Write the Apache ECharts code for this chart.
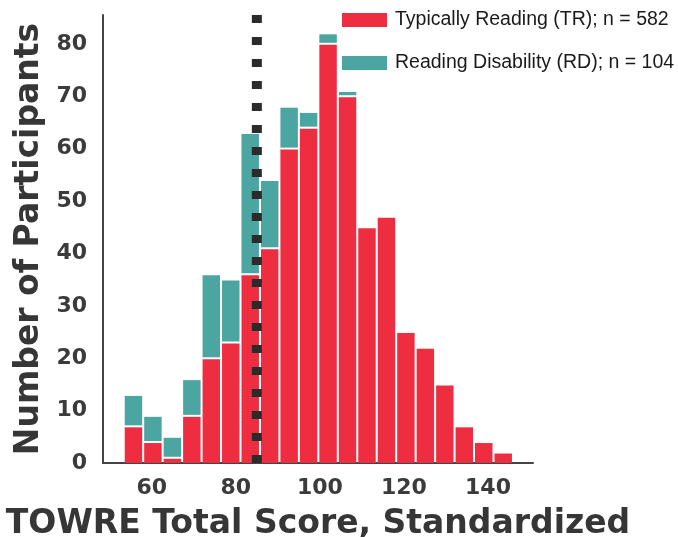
<!DOCTYPE html>
<html>
<head>
<meta charset="utf-8">
<script src="https://cdn.jsdelivr.net/npm/echarts@6/dist/echarts.min.js"></script>
<style>
html,body{margin:0;padding:0;background:#fff;}
#chart{width:678px;height:537px;}
</style>
</head>
<body>
<div id="chart"></div>
<script>
// Histogram bin edges (TOWRE standardized score)
const binEdges = [53.33, 57.96, 62.59, 67.22, 71.85, 76.48, 81.11, 85.74, 90.37, 95.00, 99.63,
                  104.26, 108.89, 113.52, 118.15, 122.78, 127.41, 132.04, 136.67, 141.30, 145.93];
// Counts per bin
const trCounts = [7, 4, 1, 9, 20, 23, 36, 41, 60, 64, 80, 70, 45, 47, 25, 22, 15, 7, 4, 2];
const rdCounts = [6, 5, 4, 7, 16, 12, 27, 13, 8, 3, 2, 1, 0, 0, 0, 0, 0, 0, 0, 0];
const cutoffScore = 85;
const seriesNames = ['Typically Reading (TR); n = 582', 'Reading Disability (RD); n = 104'];
const xTickValues = [60, 80, 100, 120, 140];
const yTickValues = [0, 10, 20, 30, 40, 50, 60, 70, 80];

const RED = '#EF2D40';
const TEAL = '#4BA5A0';
const xMin = 48.4, xMax = 150.7, yMax = 85.5;

// rows: [left edge, right edge, base, top]
const trRows = trCounts.map((v, i) => [binEdges[i], binEdges[i + 1], 0, v]);
const rdRows = rdCounts.map((v, i) => [binEdges[i], binEdges[i + 1], trCounts[i], trCounts[i] + v]);

function makeRender(color) {
  return function (params, api) {
    const x0 = api.value(0), x1 = api.value(1), b = api.value(2), t = api.value(3);
    if (t - b <= 0) return null;
    const p0 = api.coord([x0, b]);
    const p1 = api.coord([x1, t]);
    const left = p0[0] + 1, right = p1[0] - 1;
    const bottom = b > 0 ? p0[1] - 1 : p0[1];
    const top = p1[1] + 1;
    return {
      type: 'rect',
      shape: { x: left, y: top, width: right - left, height: bottom - top },
      style: { fill: color }
    };
  };
}

const chart = echarts.init(document.getElementById('chart'), null, { renderer: 'canvas' });
const tickColor = '#3b3b3b';
chart.setOption({
  backgroundColor: '#ffffff',
  animation: false,
  grid: { left: 103, right: 145, top: 15, bottom: 74, containLabel: false, outerBoundsMode: 'none' },
  legend: {
    orient: 'vertical',
    left: 342, top: 10,
    padding: 0,
    icon: 'rect',
    itemWidth: 45, itemHeight: 14,
    itemGap: 23,
    data: seriesNames,
    textStyle: { fontFamily: 'Liberation Sans', fontSize: 19.5, color: '#1a1a1a', lineHeight: 20, padding: [0, 0, 0, 3] }
  },
  xAxis: {
    type: 'value', min: xMin, max: xMax,
    minInterval: 20, maxInterval: 20,
    name: 'TOWRE Total Score, Standardized',
    nameLocation: 'middle', nameGap: 45,
    nameTextStyle: { fontFamily: 'DejaVu Sans', fontWeight: 'bold', fontSize: 33, color: '#363636' },
    axisLine: { show: true, lineStyle: { color: '#444', width: 2 } },
    axisTick: { show: false },
    splitLine: { show: false },
    axisLabel: {
      margin: 14, fontFamily: 'DejaVu Sans', fontWeight: 'bold', fontSize: 22, color: tickColor,
      showMinLabel: false, showMaxLabel: false,
      formatter: v => (xTickValues.indexOf(Math.round(v * 1000) / 1000) >= 0 ? String(v) : '')
    }
  },
  yAxis: {
    type: 'value', min: 0, max: yMax, interval: 10,
    name: 'Number of Participants',
    nameLocation: 'middle', nameGap: 57,
    nameTextStyle: { fontFamily: 'DejaVu Sans', fontWeight: 'bold', fontSize: 33, color: '#363636' },
    axisLine: { show: true, lineStyle: { color: '#444', width: 2 } },
    axisTick: { show: false },
    splitLine: { show: false },
    axisLabel: {
      margin: 16, fontFamily: 'DejaVu Sans', fontWeight: 'bold', fontSize: 22, color: tickColor,
      showMaxLabel: false,
      formatter: v => (yTickValues.indexOf(v) >= 0 ? String(v) : '')
    }
  },
  series: [
    {
      name: seriesNames[0], type: 'custom', renderItem: makeRender(RED),
      itemStyle: { color: RED }, encode: { x: [0, 1], y: [2, 3] }, data: trRows, z: 2
    },
    {
      name: seriesNames[1], type: 'custom', renderItem: makeRender(TEAL),
      itemStyle: { color: TEAL }, encode: { x: [0, 1], y: [2, 3] }, data: rdRows, z: 2
    },
    {
      name: 'cutoff', type: 'line', symbol: 'none', silent: true, z: 5,
      data: [[cutoffScore, 0], [cutoffScore, yMax]],
      lineStyle: { color: '#2b2b2b', width: 10, type: [8, 14], cap: 'butt' }
    }
  ]
});
</script>
</body>
</html>
